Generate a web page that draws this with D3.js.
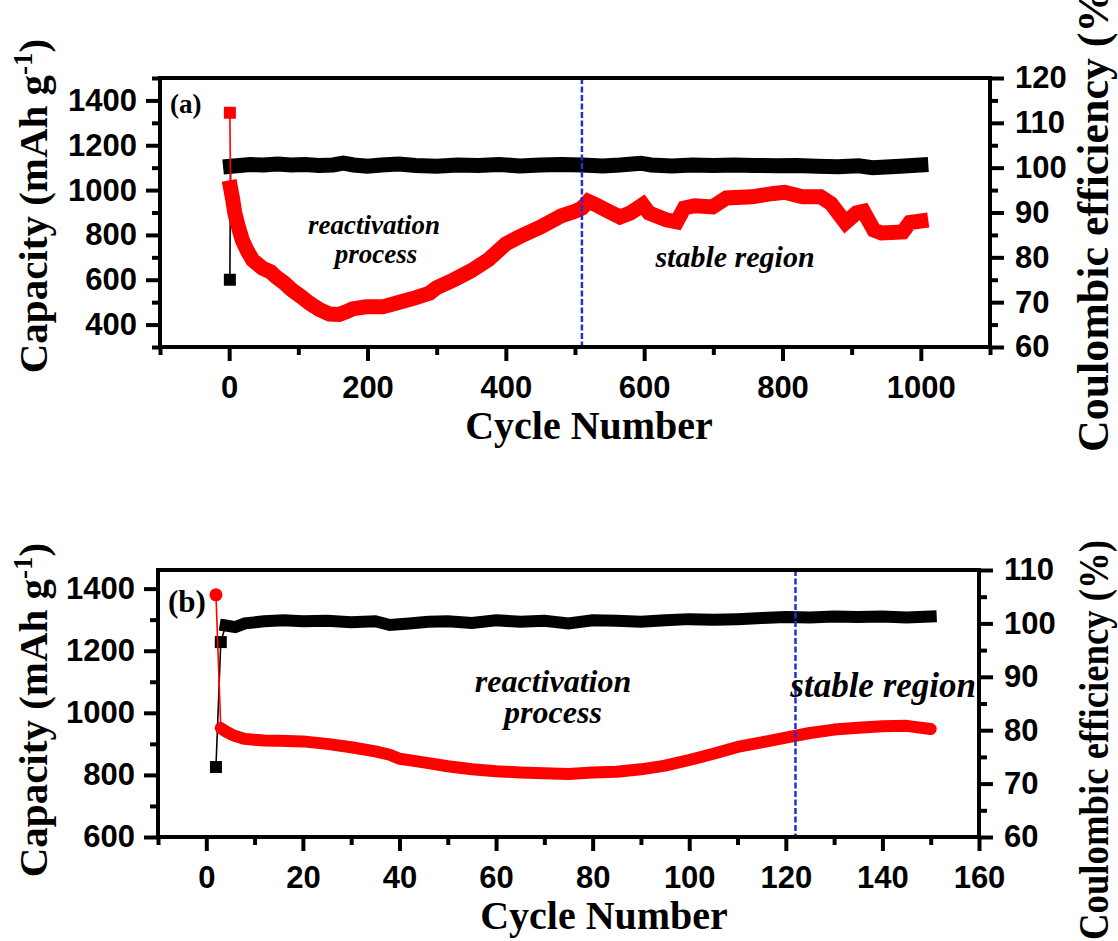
<!DOCTYPE html>
<html>
<head>
<meta charset="utf-8">
<script src="https://cdn.jsdelivr.net/npm/d3@7"></script>
<style>
  body { margin: 0; background: #fff; }
  svg { display: block; background: #fff; }
  .tick text { font-family: "Liberation Sans", Arial, sans-serif; font-weight: bold; font-size: 31px; fill: #000; }
  .tick line { stroke: #000; stroke-width: 4px; }
  .title { font-family: "Liberation Serif", "Times New Roman", serif; font-weight: bold; fill: #000; }
  .note { font-family: "Liberation Serif", "Times New Roman", serif; font-weight: bold; font-style: italic; fill: #000; }
</style>
</head>
<body>
<svg id="chart" width="1118" height="941"></svg>
<script>
// ---------- panel (a) : 1000 cycles ----------
let cycA_cap = [1, 2, 5, 8, 12, 19, 26, 34, 48, 60, 68, 80, 91, 104, 116, 130, 145, 159, 170, 178, 198, 222, 246, 270, 290, 300, 325, 350, 375, 400, 425, 450, 480, 500, 510, 519, 530, 545, 565, 580, 598, 607, 632, 647, 658, 673, 699, 719, 756, 787, 803, 829, 855, 870, 891, 907, 917, 932, 943, 974, 984, 1000]
let capA = [1345, 1010, 960, 900, 850, 777, 730, 688, 652, 635, 612, 585, 554, 525, 496, 468, 447, 445, 458, 470, 479, 479, 500, 520, 541, 565, 600, 640, 690, 760, 800, 835, 885, 905, 920, 950, 935, 911, 880, 898, 935, 898, 867, 858, 920, 930, 925, 965, 970, 985, 990, 970, 970, 940, 855, 898, 905, 822, 809, 813, 855, 862]
let cycA_ce = [1, 2, 15, 30, 50, 70, 90, 110, 130, 150, 165, 180, 200, 220, 245, 270, 300, 330, 360, 390, 420, 450, 480, 510, 540, 565, 595, 610, 640, 670, 700, 730, 760, 790, 820, 850, 880, 910, 930, 970, 1000]
let ceA = [75, 100.3, 100.5, 100.7, 100.6, 100.8, 100.6, 100.7, 100.5, 100.6, 101.0, 100.6, 100.3, 100.6, 100.8, 100.5, 100.3, 100.6, 100.5, 100.7, 100.4, 100.6, 100.7, 100.6, 100.4, 100.6, 101.0, 100.6, 100.4, 100.6, 100.5, 100.6, 100.5, 100.4, 100.5, 100.3, 100.2, 100.4, 100.0, 100.3, 100.6]
let xTicksA = [0, 200, 400, 600, 800, 1000]
let xMinorA = [-100, 100, 300, 500, 700, 900, 1100]
let capTicksA = [400, 600, 800, 1000, 1200, 1400]
let capMinorA = [300, 500, 700, 900, 1100, 1300, 1500]
let ceTicksA = [60, 70, 80, 90, 100, 110, 120]
let ceMinorA = [65, 75, 85, 95, 105, 115]
let splitA = 510

// ---------- panel (b) : 150 cycles ----------
let cycB_cap = [2, 3, 4, 5, 6, 8, 10, 12, 15, 20, 25, 30, 35, 38, 40, 43, 46, 50, 55, 60, 65, 70, 75, 80, 85, 90, 95, 100, 105, 110, 115, 120, 125, 130, 135, 140, 145, 150]
let capB = [1380, 951, 940, 932, 925, 916, 913, 911, 910, 908, 900, 889, 876, 865, 852, 845, 838, 828, 818, 812, 808, 805, 803, 808, 810, 818, 830, 848, 868, 890, 905, 920, 935, 946, 952, 957, 958, 948]
let cycB_ce = [2, 3, 4, 6, 8, 12, 16, 20, 25, 30, 35, 38, 42, 46, 50, 55, 60, 65, 70, 75, 80, 85, 90, 95, 100, 105, 110, 115, 120, 125, 130, 135, 140, 145, 150]
let ceB = [73.1, 96.5, 99.6, 99.3, 100.0, 100.4, 100.6, 100.4, 100.5, 100.2, 100.4, 99.7, 100.0, 100.3, 100.4, 100.1, 100.6, 100.3, 100.5, 100.0, 100.6, 100.5, 100.3, 100.6, 100.8, 100.7, 100.8, 101.0, 101.2, 101.1, 101.3, 101.2, 101.3, 101.1, 101.3]
let xTicksB = [0, 20, 40, 60, 80, 100, 120, 140, 160]
let xMinorB = [-10, 10, 30, 50, 70, 90, 110, 130, 150]
let capTicksB = [600, 800, 1000, 1200, 1400]
let capMinorB = [700, 900, 1100, 1300]
let ceTicksB = [60, 70, 80, 90, 100, 110]
let ceMinorB = [65, 75, 85, 95, 105]
let splitB = 122

let svg = d3.select("#chart")

function add_axis(g, axis, transform) {
  g.append("g")
    .attr("transform", transform)
    .call(axis)
    .call(a => a.select(".domain").remove())
}

function draw_series(g, xs, ys, x, y, color, shape, firstBand, bandWidth) {
  let pts = xs.map((c, i) => [x(c), y(ys[i])])
  let line = d3.line()
  // thin connecting line
  g.append("path")
    .attr("d", line(pts))
    .attr("fill", "none")
    .attr("stroke", color)
    .attr("stroke-width", 1.6)
  // dense overlapping symbols -> thick band
  g.append("path")
    .attr("d", line(pts.slice(firstBand)))
    .attr("fill", "none")
    .attr("stroke", color)
    .attr("stroke-width", bandWidth)
    .attr("stroke-linejoin", shape == "circle" ? "round" : "miter")
    .attr("stroke-miterlimit", 1.5)
    .attr("stroke-linecap", shape == "circle" ? "round" : "square")
  // first, separate symbols
  pts.slice(0, firstBand).forEach(p => {
    if (shape == "circle")
      g.append("circle").attr("cx", p[0]).attr("cy", p[1]).attr("r", 6.5).attr("fill", color)
    else
      g.append("rect").attr("x", p[0] - 6).attr("y", p[1] - 6).attr("width", 12).attr("height", 12).attr("fill", color)
  })
}

function draw_panel(p) {
  let g = svg.append("g")
  let x = d3.scaleLinear().domain(p.xDomain).range([p.left, p.right])
  let yL = d3.scaleLinear().domain(p.capDomain).range([p.bottom, p.top])
  let yR = d3.scaleLinear().domain(p.ceDomain).range([p.bottom, p.top])

  // series: CE (black squares) first, capacity (red) on top
  draw_series(g, p.ceX, p.ce, x, yR, "#000", "square", p.ceBand, p.band)
  draw_series(g, p.capX, p.cap, x, yL, "#ff0000", p.capShape, p.capBand, p.band)

  // boundary between regions
  g.append("line")
    .attr("x1", x(p.split)).attr("x2", x(p.split))
    .attr("y1", p.top).attr("y2", p.bottom)
    .attr("stroke", "#2330d0")
    .attr("stroke-width", 2.5)
    .attr("stroke-dasharray", "6,2.5")

  // frame
  g.append("rect")
    .attr("x", p.left).attr("y", p.top)
    .attr("width", p.right - p.left).attr("height", p.bottom - p.top)
    .attr("fill", "none").attr("stroke", "#000").attr("stroke-width", 4)

  add_axis(g, d3.axisBottom(x).tickValues(p.xTicks).tickSize(14).tickPadding(15).tickFormat(d3.format("d")), `translate(0,${p.bottom})`)
  add_axis(g, d3.axisBottom(x).tickValues(p.xMinor).tickSize(8).tickFormat(""), `translate(0,${p.bottom})`)
  add_axis(g, d3.axisLeft(yL).tickValues(p.capTicks).tickSize(14).tickPadding(9).tickFormat(d3.format("d")), `translate(${p.left},0)`)
  add_axis(g, d3.axisLeft(yL).tickValues(p.capMinor).tickSize(8).tickFormat(""), `translate(${p.left},0)`)
  add_axis(g, d3.axisRight(yR).tickValues(p.ceTicks).tickSize(14).tickPadding(11).tickFormat(d3.format("d")), `translate(${p.right},0)`)
  add_axis(g, d3.axisRight(yR).tickValues(p.ceMinor).tickSize(8).tickFormat(""), `translate(${p.right},0)`)

  // panel letter
  g.append("text").attr("class", "title")
    .attr("x", p.left + 10).attr("y", p.top + p.letterDy)
    .style("font-size", p.letterSize + "px")
    .text(p.letter)

  // region notes
  p.notes.forEach(n => {
    g.append("text").attr("class", "note")
      .attr("x", n.x).attr("y", n.y)
      .attr("text-anchor", n.anchor)
      .style("font-size", n.size + "px")
      .text(n.text)
  })

  // x title
  g.append("text").attr("class", "title")
    .attr("x", p.xTitleX).attr("y", p.xTitleY)
    .attr("text-anchor", "middle")
    .style("font-size", "40px")
    .text("Cycle Number")

  // left title
  let lt = g.append("text").attr("class", "title")
    .attr("transform", `translate(47,${p.yTitleY}) rotate(-90)`)
    .attr("text-anchor", "middle")
    .style("font-size", "41px")
  lt.append("tspan").text("Capacity (mAh g")
  lt.append("tspan").attr("dy", -15).style("font-size", "27px").text("-1")
  lt.append("tspan").attr("dy", 15).text(")")

  // right title
  g.append("text").attr("class", "title")
    .attr("transform", `translate(1108,${p.rTitleStart}) rotate(-90)`)
    .attr("text-anchor", "start")
    .attr("textLength", p.rTitleLen)
    .attr("lengthAdjust", "spacingAndGlyphs")
    .style("font-size", p.rTitleSize + "px")
    .text("Coulombic efficiency (%)")
}

draw_panel({
  left: 160, right: 990, top: 78, bottom: 347,
  xDomain: [-100, 1100], capDomain: [300, 1500], ceDomain: [60, 120],
  capX: cycA_cap, cap: capA, capShape: "square", capBand: 1,
  ceX: cycA_ce, ce: ceA, ceBand: 1, band: 15,
  xTicks: xTicksA, xMinor: xMinorA,
  capTicks: capTicksA, capMinor: capMinorA,
  ceTicks: ceTicksA, ceMinor: ceMinorA,
  split: splitA,
  letter: "(a)", letterSize: 27, letterDy: 35,
  notes: [
    {text: "reactivation", x: 374, y: 234, anchor: "middle", size: 27},
    {text: "process", x: 376, y: 263, anchor: "middle", size: 27},
    {text: "stable region", x: 735, y: 267, anchor: "middle", size: 30}
  ],
  xTitleX: 589, xTitleY: 439,
  yTitleY: 206,
  rTitleStart: 452, rTitleLen: 478, rTitleSize: 44
})

draw_panel({
  left: 158, right: 979, top: 570, bottom: 837,
  xDomain: [-10, 160], capDomain: [600, 1460], ceDomain: [60, 110],
  capX: cycB_cap, cap: capB, capShape: "circle", capBand: 1,
  ceX: cycB_ce, ce: ceB, ceBand: 2, band: 12,
  xTicks: xTicksB, xMinor: xMinorB,
  capTicks: capTicksB, capMinor: capMinorB,
  ceTicks: ceTicksB, ceMinor: ceMinorB,
  split: splitB,
  letter: "(b)", letterSize: 31, letterDy: 42,
  notes: [
    {text: "reactivation", x: 553, y: 692, anchor: "middle", size: 32},
    {text: "process", x: 553, y: 723, anchor: "middle", size: 32},
    {text: "stable region", x: 976, y: 697, anchor: "end", size: 35}
  ],
  xTitleX: 604, xTitleY: 929,
  yTitleY: 710,
  rTitleStart: 940, rTitleLen: 400, rTitleSize: 42
})
</script>
</body>
</html>
